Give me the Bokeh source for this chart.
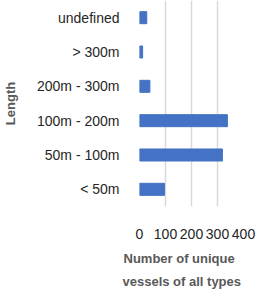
from bokeh.plotting import figure
from bokeh.models import Range1d, FactorRange, Title
from bokeh.embed import file_html
from bokeh.resources import INLINE

categories = ["< 50m", "50m - 100m", "100m - 200m", "200m - 300m", "> 300m", "undefined"]
counts = [96, 319, 338, 40, 12, 28]
x_ticks = [0, 100, 200, 300, 400]
x_title_lines = ["Number of unique", "vessels of all types"]
y_title = "Length"

p = figure(width=252, height=285, output_backend="svg", toolbar_location=None,
           y_range=FactorRange(*categories), x_range=Range1d(0, 400),
           min_border_left=133, min_border_right=15, min_border_top=0,
           min_border_bottom=0,
           frame_height=206, frame_width=104)
p.hbar(y=categories, right=counts, left=0, height=0.35,
       fill_color="#4472C4", line_color="#4472C4")

p.outline_line_color = None
p.ygrid.grid_line_color = None
p.xgrid.grid_line_color = "#D9D9D9"
p.xgrid.grid_line_width = 1.5
p.xaxis.ticker = x_ticks
p.xaxis.axis_line_color = None
p.yaxis.axis_line_color = None
p.xaxis.major_tick_line_color = None
p.yaxis.major_tick_line_color = None
p.xaxis.minor_tick_line_color = None

p.xaxis.major_label_text_font = "Liberation Sans"
p.yaxis.major_label_text_font = "Liberation Sans"
p.xaxis.major_label_text_font_size = "14px"
p.yaxis.major_label_text_font_size = "14px"
p.xaxis.major_label_text_color = "#262626"
p.yaxis.major_label_text_color = "#262626"
p.xaxis.major_label_standoff = 16
p.yaxis.major_label_standoff = 14

p.yaxis.axis_label = y_title
p.yaxis.axis_label_text_font = "Liberation Sans"
p.yaxis.axis_label_text_font_size = "13px"
p.yaxis.axis_label_text_font_style = "bold"
p.yaxis.axis_label_text_color = "#595959"
p.yaxis.axis_label_standoff = 16

for i, line in enumerate(x_title_lines):
    t = Title(text=line, align="left", offset=-16 if i == 0 else -17,
              vertical_align="bottom" if i == 0 else "middle",
              text_font="Liberation Sans", text_font_size="13px",
              text_font_style="bold", text_color="#595959",
              standoff=14 if i == 0 else 0)
    p.add_layout(t, "below")

open("out.html", "w").write(file_html(p, INLINE))
